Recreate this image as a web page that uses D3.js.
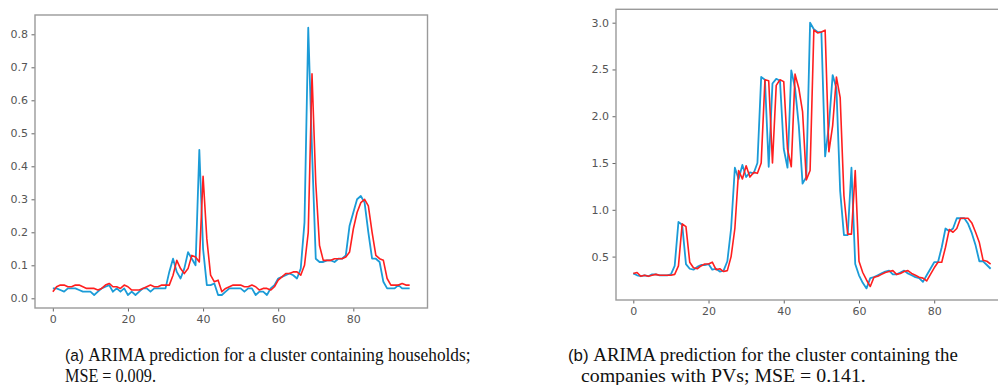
<!DOCTYPE html>
<html>
<head>
<meta charset="utf-8">
<script src="https://cdn.jsdelivr.net/npm/d3@7"></script>
<style>
  body { margin: 0; background: #fff; }
  svg { display: block; }
</style>
</head>
<body>
<svg id="chart" width="998" height="385"></svg>
<script>
// --- data ---
const steps = d3.range(96);

const householdsActual = [
  0.03, 0.03, 0.025, 0.02, 0.03, 0.03, 0.03, 0.025, 0.02, 0.02,
  0.02, 0.01, 0.02, 0.03, 0.035, 0.04, 0.02, 0.03, 0.02, 0.03,
  0.01, 0.02, 0.01, 0.02, 0.03, 0.03, 0.02, 0.03, 0.03, 0.03,
  0.03, 0.08, 0.12, 0.08, 0.06, 0.09, 0.14, 0.12, 0.10, 0.45,
  0.15, 0.04, 0.04, 0.045, 0.01, 0.01, 0.02, 0.03, 0.03, 0.03,
  0.03, 0.02, 0.03, 0.03, 0.01, 0.02, 0.02, 0.01, 0.03, 0.04,
  0.06, 0.065, 0.07, 0.075, 0.07, 0.06, 0.09, 0.23, 0.82, 0.45,
  0.12, 0.11, 0.11, 0.115, 0.115, 0.11, 0.12, 0.12, 0.13, 0.22,
  0.26, 0.30, 0.31, 0.29, 0.20, 0.12, 0.12, 0.11, 0.05, 0.03,
  0.03, 0.03, 0.04, 0.03, 0.03, 0.03
];
const householdsPred = [
  0.02, 0.035, 0.04, 0.04, 0.035, 0.035, 0.04, 0.04, 0.035, 0.03,
  0.03, 0.03, 0.025, 0.03, 0.04, 0.045, 0.035, 0.035, 0.03, 0.04,
  0.035, 0.025, 0.025, 0.025, 0.03, 0.035, 0.04, 0.035, 0.035, 0.04,
  0.04, 0.04, 0.07, 0.115, 0.09, 0.075, 0.09, 0.13, 0.125, 0.11,
  0.37, 0.18, 0.07, 0.05, 0.055, 0.02, 0.03, 0.035, 0.04, 0.04,
  0.04, 0.035, 0.035, 0.04, 0.035, 0.025, 0.03, 0.03, 0.025, 0.035,
  0.055, 0.065, 0.075, 0.075, 0.08, 0.08, 0.07, 0.10, 0.20, 0.68,
  0.35, 0.16, 0.115, 0.115, 0.115, 0.12, 0.12, 0.12, 0.125, 0.14,
  0.21, 0.26, 0.29, 0.30, 0.28, 0.20, 0.13, 0.12, 0.115, 0.06,
  0.04, 0.04, 0.04, 0.045, 0.04, 0.04
];

const pvActual = [
  0.32, 0.30, 0.29, 0.30, 0.29, 0.31, 0.31, 0.30, 0.30, 0.30,
  0.31, 0.40, 0.87, 0.84, 0.42, 0.37, 0.36, 0.39, 0.41, 0.41,
  0.42, 0.36, 0.37, 0.34, 0.35, 0.45, 0.80, 1.45, 1.33, 1.48,
  1.35, 1.40, 1.39, 1.50, 2.42, 2.39, 1.46, 2.35, 2.40, 2.38,
  1.65, 1.45, 2.49, 2.30, 1.90, 1.28, 1.35, 3.00, 2.93, 2.90,
  2.90, 1.57, 1.90, 2.44, 2.30, 1.20, 0.73, 0.73, 1.45, 0.42,
  0.30, 0.22, 0.16, 0.27, 0.28, 0.30, 0.32, 0.34, 0.35, 0.31,
  0.31, 0.33, 0.35, 0.32, 0.30, 0.28, 0.27, 0.23, 0.30, 0.37,
  0.44, 0.44, 0.60, 0.80, 0.77, 0.80, 0.91, 0.91, 0.91, 0.85,
  0.75, 0.62, 0.45, 0.45, 0.41, 0.37
];
const pvPred = [
  0.32, 0.33, 0.29, 0.30, 0.29, 0.30, 0.31, 0.30, 0.30, 0.30,
  0.30, 0.31, 0.40, 0.85, 0.82, 0.44, 0.38, 0.37, 0.40, 0.42,
  0.42, 0.44, 0.36, 0.37, 0.34, 0.35, 0.50, 0.80, 1.42, 1.33,
  1.47, 1.35, 1.40, 1.39, 1.50, 2.39, 2.38, 1.50, 2.33, 2.39,
  2.37, 1.65, 1.46, 2.45, 2.30, 2.05, 1.32, 1.42, 2.92, 2.89,
  2.90, 2.92, 1.62, 1.90, 2.42, 2.20, 1.15, 0.74, 0.74, 1.42,
  0.45, 0.33, 0.25, 0.18, 0.28, 0.29, 0.31, 0.33, 0.34, 0.35,
  0.31, 0.32, 0.34, 0.35, 0.32, 0.30, 0.28, 0.27, 0.24, 0.31,
  0.38, 0.44, 0.44, 0.60, 0.79, 0.76, 0.80, 0.91, 0.91, 0.91,
  0.86, 0.76, 0.65, 0.46, 0.45, 0.42
];

const xTicks = [0, 20, 40, 60, 80];
const yTicksA = [0.0, 0.1, 0.2, 0.3, 0.4, 0.5, 0.6, 0.7, 0.8];
const yTicksB = [0.5, 1.0, 1.5, 2.0, 2.5, 3.0];

const captionA = ["ARIMA prediction for a cluster containing households;", "MSE = 0.009."];
const captionB = ["ARIMA prediction for the cluster containing the", "companies with PVs; MSE = 0.141."];

const actualColor = "#1b9bd7";
const predColor = "#ff1f1f";

const svg = d3.select("#chart");

// --- one panel ---
const drawPanel = (opt) => {
  const x = d3.scaleLinear().domain(opt.xDomain).range([opt.left, opt.right]);
  const y = d3.scaleLinear().domain(opt.yDomain).range([opt.bottom, opt.top]);
  const g = svg.append("g");

  const xAxis = g.append("g")
    .attr("transform", `translate(0,${opt.bottom})`)
    .call(d3.axisBottom(x).tickValues(xTicks).tickFormat(d3.format("d")).tickSize(3.5).tickPadding(3.5));
  const yAxis = g.append("g")
    .attr("transform", `translate(${opt.left},0)`)
    .call(d3.axisLeft(y).tickValues(opt.yTicks).tickFormat(d3.format(".1f")).tickSize(3.5).tickPadding(3.5));
  [xAxis, yAxis].forEach((a) => {
    a.select(".domain").remove();
    a.selectAll(".tick line").attr("stroke", "#666").attr("stroke-width", 1);
    a.selectAll(".tick text")
      .attr("fill", "#555")
      .style("font-family", "DejaVu Sans")
      .style("font-size", "11px");
  });

  const line = d3.line().x((d, i) => x(steps[i])).y((d) => y(d));
  g.append("path").datum(opt.actual)
    .attr("fill", "none").attr("stroke", actualColor).attr("stroke-width", 1.8)
    .attr("stroke-linejoin", "round").attr("d", line);
  g.append("path").datum(opt.pred)
    .attr("fill", "none").attr("stroke", predColor).attr("stroke-width", 1.6)
    .attr("stroke-linejoin", "round").attr("d", line);

  g.append("rect")
    .attr("x", opt.left).attr("y", opt.top)
    .attr("width", opt.right - opt.left).attr("height", opt.bottom - opt.top)
    .attr("fill", "none").attr("stroke", "#9a9a9a").attr("stroke-width", 1.4);
};

drawPanel({
  left: 35, right: 427.5, top: 15, bottom: 308,
  xDomain: [-4.75, 99.75], yDomain: [-0.0294, 0.8585],
  yTicks: yTicksA, actual: householdsActual, pred: householdsPred,
});
drawPanel({
  left: 616, right: 1008.5, top: 9.3, bottom: 300,
  xDomain: [-4.6, 99.75], yDomain: [0.036, 3.143],
  yTicks: yTicksB, actual: pvActual, pred: pvPred,
});

// --- captions, squeezed to the width they take in the reference ---
const caption = (label, lines, spots) => {
  lines.forEach((txt, k) => {
    const s = spots[k];
    const t = svg.append("text")
      .attr("x", 0).attr("y", 0)
      .attr("fill", "#111")
      .style("font-family", "Liberation Serif")
      .style("font-size", "19px");
    if (k === 0) {
      t.append("tspan").style("font-family", "Liberation Sans").style("font-size", "17px").text(label + " ");
    }
    t.append("tspan").text(txt);
    const w = t.node().getComputedTextLength();
    t.attr("transform", `translate(${s.x},${s.y}) scale(${s.w / w},1)`);
  });
};

caption("(a)", captionA, [{ x: 65, y: 361, w: 406 }, { x: 65, y: 382, w: 91 }]);
caption("(b)", captionB, [{ x: 568, y: 361, w: 390 }, { x: 581, y: 382, w: 285 }]);
</script>
</body>
</html>
